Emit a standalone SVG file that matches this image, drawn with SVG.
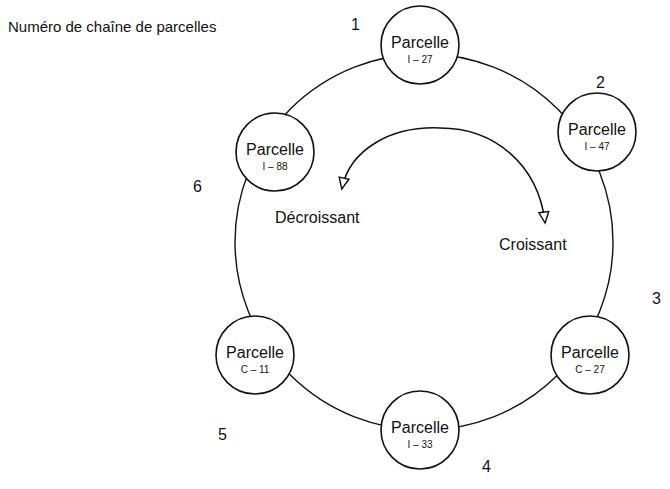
<svg xmlns="http://www.w3.org/2000/svg" width="670" height="489" viewBox="0 0 670 489">
<style>
.n{fill:#fff;stroke:#111;stroke-width:1.6}
.t{font-family:"Liberation Sans",Arial,sans-serif;fill:#111}
.p{font-size:16px;text-anchor:middle}
.c{font-size:10px;text-anchor:middle}
.l{font-size:16px}
</style>
<defs>
<marker id="ah" markerWidth="16" markerHeight="16" refX="11" refY="6" orient="auto" markerUnits="userSpaceOnUse">
<path d="M1,1 L12,6 L1,11 Z" fill="#fff" stroke="#111" stroke-width="1.4"/>
</marker>
</defs>
<g id="connectors">
<ellipse cx="424" cy="242" rx="189" ry="188" fill="none" stroke="#111" stroke-width="1.4"/>
<path d="M440,128 C390,126 350,150 342,188" fill="none" stroke="#111" stroke-width="1.5" marker-end="url(#ah)"/>
<path d="M440,128 C495,128 538,165 545,222" fill="none" stroke="#111" stroke-width="1.5" marker-end="url(#ah)"/>
</g>
<text class="t" x="8" y="32" font-size="15">Numéro de chaîne de parcelles</text>
<g id="n1"><circle class="n" cx="420" cy="45" r="39"/><text class="t p" x="420" y="48">Parcelle</text><text class="t c" x="420" y="63">I – 27</text><text class="t l" x="351" y="30">1</text></g>
<g id="n2"><circle class="n" cx="597" cy="132" r="39"/><text class="t p" x="597" y="135">Parcelle</text><text class="t c" x="597" y="150">I – 47</text><text class="t l" x="596" y="88">2</text></g>
<g id="n3"><circle class="n" cx="590" cy="355" r="39"/><text class="t p" x="590" y="358">Parcelle</text><text class="t c" x="590" y="373">C – 27</text><text class="t l" x="652" y="304">3</text></g>
<g id="n4"><circle class="n" cx="420" cy="430" r="39"/><text class="t p" x="420" y="433">Parcelle</text><text class="t c" x="420" y="448">I – 33</text><text class="t l" x="482" y="472">4</text></g>
<g id="n5"><circle class="n" cx="255" cy="355" r="39"/><text class="t p" x="255" y="358">Parcelle</text><text class="t c" x="255" y="373">C – 11</text><text class="t l" x="218" y="440">5</text></g>
<g id="n6"><circle class="n" cx="275" cy="152" r="39"/><text class="t p" x="275" y="155">Parcelle</text><text class="t c" x="275" y="170">I – 88</text><text class="t l" x="193" y="192">6</text></g>
<text class="t l" x="275" y="223">Décroissant</text>
<text class="t l" x="499" y="250">Croissant</text>
</svg>
